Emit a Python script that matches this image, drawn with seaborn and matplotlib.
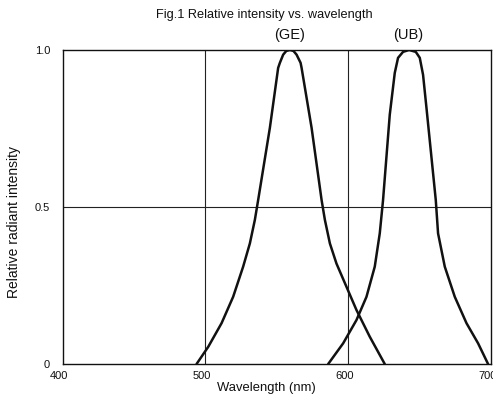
import matplotlib
matplotlib.use('Agg')  # no display
import matplotlib.pyplot as plt
import matplotlib.transforms as mtransforms
import seaborn as sns
import pandas as pd

# Values
ge_wavelength = [493.8, 502.0, 511.3, 519.4, 526.4, 531.1, 534.6, 536.9, 545.1,
                 550.9, 552.1, 554.4, 556.6, 559.1, 561.6, 563.8, 566.6, 567.3,
                 574.3, 581.3, 583.6, 587.1, 591.7, 598.7, 605.7, 615.0, 625.5]
ge_intensity = [0.0, 0.055, 0.130, 0.214, 0.310, 0.384, 0.459, 0.522, 0.752,
                0.943, 0.959, 0.985, 0.997, 1.0, 0.997, 0.985, 0.959, 0.943,
                0.752, 0.522, 0.459, 0.384, 0.320, 0.246, 0.172, 0.087, 0.0]

ub_wavelength = [585.9, 596.4, 605.7, 612.7, 618.5, 622.0, 624.3, 629.0, 632.5,
                 634.8, 638.3, 642.5, 647.2, 650.0, 652.3, 654.7, 661.2, 662.8,
                 667.5, 674.5, 682.7, 690.8, 697.8]
ub_intensity = [0.0, 0.066, 0.140, 0.214, 0.310, 0.416, 0.522, 0.794, 0.927,
                0.975, 0.994, 1.0, 0.994, 0.975, 0.921, 0.815, 0.522, 0.416,
                0.310, 0.214, 0.130, 0.066, 0.0]

curve_names = ['(GE)', '(UB)']
peak_wavelength = [559, 642]

x_ticks = [400, 500, 600, 700]
y_ticks = [0, 0.5, 1.0]
y_tick_labels = ['0', '0.5', '1.0']

df = pd.concat([
    pd.DataFrame({'wavelength': ge_wavelength, 'intensity': ge_intensity, 'led': curve_names[0]}),
    pd.DataFrame({'wavelength': ub_wavelength, 'intensity': ub_intensity, 'led': curve_names[1]}),
])

sns.set_theme(style="white")
plt.rcParams['font.family'] = ['Liberation Sans', 'DejaVu Sans']

fig = plt.figure(figsize=(4.93, 4.08), dpi=100)
ax = fig.add_axes([0.1268, 0.1078, 0.8696, 0.7697])

# grid lines
for gx in [500, 600]:
    ax.axvline(gx, color='#222222', linewidth=0.8, zorder=1)
ax.axhline(0.5, color='#222222', linewidth=0.8, zorder=1)

for name in curve_names:
    sub = df[df['led'] == name]
    sns.lineplot(data=sub, x='wavelength', y='intensity', ax=ax, sort=False,
                 estimator=None, color='#111111', linewidth=1.8, zorder=3,
                 solid_joinstyle='round', solid_capstyle='round')

for name, pk in zip(curve_names, peak_wavelength):
    ax.text(pk, 1.025, name, ha='center', va='bottom', fontsize=10.5,
            color='#111111', clip_on=False)

ax.set_xlim(400, 700)
ax.set_ylim(0, 1.0)
ax.set_xticks(x_ticks)
ax.set_yticks(y_ticks)
ax.set_yticklabels(y_tick_labels)
ax.tick_params(axis='both', length=0, labelsize=8, colors='#111111')
ax.tick_params(axis='x', pad=5)
ax.tick_params(axis='y', pad=9)
shift = mtransforms.ScaledTranslation(-4 / 100, 0, fig.dpi_scale_trans)
for lbl in ax.get_xticklabels():
    lbl.set_transform(lbl.get_transform() + shift)

for sp in ax.spines.values():
    sp.set_color('#111111')
    sp.set_linewidth(1.0)

ax.set_xlabel('Wavelength (nm)', fontsize=9.4, color='#111111')
ax.xaxis.set_label_coords(0.475, -0.055, transform=None) if False else ax.xaxis.set_label_coords(0.475, -0.058)
ax.set_ylabel('Relative radiant intensity', fontsize=10, color='#111111')
ax.yaxis.set_label_coords(-0.097, 0.452)
fig.text(0.536, 0.963, 'Fig.1 Relative intensity vs. wavelength', ha='center',
         va='center', fontsize=9.2, color='#111111')

fig.savefig('out.png', dpi=100)
plt.close(fig)
